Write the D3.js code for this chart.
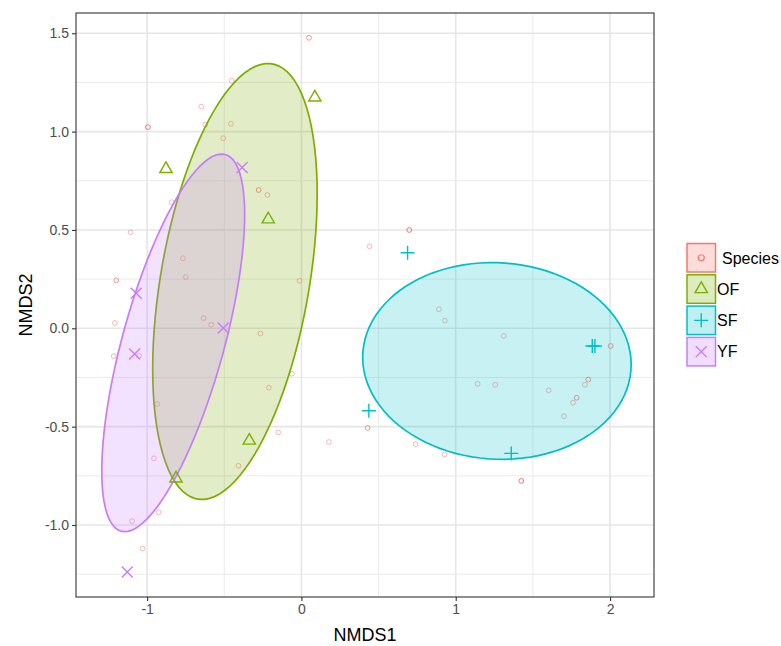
<!DOCTYPE html>
<html>
<head>
<meta charset="utf-8">
<script src="https://cdn.jsdelivr.net/npm/d3@7"></script>
<style>
  body { margin: 0; background: #fff; }
  svg { display: block; font-family: "Liberation Sans", Arial, sans-serif; }
</style>
</head>
<body>
<svg id="chart" width="781" height="646"></svg>
<script>
// ---- data ----
const speciesX = [-0.452,-0.649,-0.995,-0.623,-0.457,-0.507,-0.277,-0.220,-0.841,0.049,
  -1.107,-0.768,-0.749,-1.200,-1.209,-0.634,-0.585,-0.266,-1.217,-1.053,
  -0.211,0.699,0.441,-0.012,-0.062,-0.935,-0.956,-0.408,-0.925,-1.097,
  -1.029,-0.150,0.178,0.429,0.740,0.891,0.930,1.312,2.004,1.142,
  1.256,1.602,1.859,1.837,1.784,1.760,1.701,0.928,1.425];
const speciesY = [1.259,1.127,1.023,1.035,1.040,0.966,0.703,0.678,0.641,1.477,
  0.488,0.356,0.261,0.244,0.027,0.052,0.018,-0.027,-0.142,-0.139,
  -0.302,0.500,0.417,0.242,-0.231,-0.385,-0.661,-0.699,-0.935,-0.980,
  -1.120,-0.529,-0.578,-0.506,-0.589,0.097,0.039,-0.039,-0.090,-0.282,
  -0.287,-0.315,-0.261,-0.287,-0.353,-0.378,-0.447,-0.641,-0.776];
const speciesLevel = [1,1,3,1,1,1,2,1,1,2,
  1,1,1,2,1,1,1,1,1,1,
  1,3,1,1,1,1,1,1,1,1,
  1,1,1,2,1,1,1,1,2,1,
  1,1,2,1,2,1,1,1,3];

const siteGroup = ["OF","OF","OF","OF","OF","SF","SF","SF","SF","SF","YF","YF","YF","YF","YF"];
const siteX = [-0.878,0.087,-0.215,-0.338,-0.813, 0.688,1.885,1.902,0.437,1.360, -0.384,-1.071,-1.081,-0.507,-1.129];
const siteY = [0.810,1.174,0.554,-0.571,-0.763, 0.384,-0.090,-0.090,-0.419,-0.636, 0.818,0.178,-0.131,0.002,-1.239];

const ellipseGroup = ["OF","SF","YF"];
const ellipseCx = [-0.431, 1.267, -0.831];
const ellipseCy = [0.238, -0.166, -0.074];
const ellipseSx = [0.533, 0.870, 0.463];
const ellipseSy = [1.108, 0.500, 0.960];
const ellipseR  = [0.401, -0.037, 0.678];

const legendLabels = ["Species","OF","SF","YF"];
const xTicks = [-1,0,1,2];
const yTicks = [-1.0,-0.5,0.0,0.5,1.0,1.5];
const xMinor = [-0.5,0.5,1.5];
const yMinor = [-1.25,-0.75,-0.25,0.25,0.75,1.25];

// ---- layout ----
const svg = d3.select("#chart");
const L = 76, R = 654, T = 13, B = 597;
const x = d3.scaleLinear().domain([-1.461, 2.285]).range([L, R]);
const y = d3.scaleLinear().domain([-1.366, 1.603]).range([B, T]);
const color = d3.scaleOrdinal().domain(["Species","OF","SF","YF"])
  .range(["#F8766D","#7CAE00","#00BFC4","#C77CFF"]);
const opacity = d3.scaleOrdinal().domain([1,2,3]).range([0.5,0.78,1]);
const shape = d3.scaleOrdinal().domain(["OF","SF","YF"])
  .range([d3.symbolTriangle2, d3.symbolPlus, d3.symbolX]);
const shapeSize = d3.scaleOrdinal().domain(["OF","SF","YF"]).range([108, 66, 80]);

// panel background + grid
svg.append("rect").attr("x", L).attr("y", T).attr("width", R-L).attr("height", B-T).attr("fill", "#fff");
const grid = svg.append("g");
grid.selectAll(".xm").data(xMinor).join("line")
  .attr("x1", d => x(d)).attr("x2", d => x(d)).attr("y1", T).attr("y2", B)
  .attr("stroke", "#EBEBEB").attr("stroke-width", 1);
grid.selectAll(".ym").data(yMinor).join("line")
  .attr("y1", d => y(d)).attr("y2", d => y(d)).attr("x1", L).attr("x2", R)
  .attr("stroke", "#EBEBEB").attr("stroke-width", 1);
grid.selectAll(".xM").data(xTicks).join("line")
  .attr("x1", d => x(d)).attr("x2", d => x(d)).attr("y1", T).attr("y2", B)
  .attr("stroke", "#E6E6E6").attr("stroke-width", 1.6);
grid.selectAll(".yM").data(yTicks).join("line")
  .attr("y1", d => y(d)).attr("y2", d => y(d)).attr("x1", L).attr("x2", R)
  .attr("stroke", "#E6E6E6").attr("stroke-width", 1.6);

// species points
svg.append("g").selectAll("circle").data(speciesX.map((v,i) => ({x:v, y:speciesY[i], l:speciesLevel[i]})))
  .join("circle")
  .attr("cx", d => x(d.x)).attr("cy", d => y(d.y)).attr("r", 2.4)
  .attr("fill", "none").attr("stroke", color("Species")).attr("stroke-width", 1)
  .attr("stroke-opacity", d => opacity(d.l));

// ellipses
const line = d3.line().x(d => x(d[0])).y(d => y(d[1])).curve(d3.curveLinearClosed);
const ell = ellipseGroup.map((g,i) => {
  const pts = d3.range(0, 100).map(k => {
    const t = 2*Math.PI*k/100;
    const r = ellipseR[i];
    return [ellipseCx[i] + ellipseSx[i]*Math.cos(t),
            ellipseCy[i] + ellipseSy[i]*(r*Math.cos(t) + Math.sqrt(1-r*r)*Math.sin(t))];
  });
  return {g, pts};
});
svg.append("g").selectAll("path").data(ell).join("path")
  .attr("d", d => line(d.pts))
  .attr("fill", d => color(d.g)).attr("fill-opacity", 0.22)
  .attr("stroke", d => color(d.g)).attr("stroke-width", 1.7);

// site points
svg.append("g").selectAll("path").data(siteGroup.map((g,i) => ({g, x:siteX[i], y:siteY[i]})))
  .join("path")
  .attr("transform", d => `translate(${x(d.x)},${y(d.y)})`)
  .attr("d", d => d3.symbol(shape(d.g), shapeSize(d.g))())
  .attr("fill", "none").attr("stroke", d => color(d.g)).attr("stroke-width", 1.4);

// panel border
svg.append("rect").attr("x", L).attr("y", T).attr("width", R-L).attr("height", B-T)
  .attr("fill", "none").attr("stroke", "#333").attr("stroke-width", 1.1);

// axes
const xAxis = d3.axisBottom(x).tickValues(xTicks).tickSize(4).tickPadding(3).tickFormat(d3.format("d"));
const gx = svg.append("g").attr("transform", `translate(0,${B})`).call(xAxis);
const yAxis = d3.axisLeft(y).tickValues(yTicks).tickSize(4).tickPadding(3).tickFormat(d3.format(".1f"));
const gy = svg.append("g").attr("transform", `translate(${L},0)`).call(yAxis);
[gx, gy].forEach(g => {
  g.select(".domain").remove();
  g.selectAll(".tick line").attr("stroke", "#333").attr("stroke-width", 1.1);
  g.selectAll(".tick text").attr("fill", "#4D4D4D").attr("font-size", 14)
    .attr("font-family", "Liberation Sans, Arial, sans-serif");
});
gx.selectAll(".tick text").text(d => d < 0 ? "-" + Math.abs(d) : d);
gy.selectAll(".tick text").text(d => d < 0 ? "-" + d3.format(".1f")(Math.abs(d)) : d3.format(".1f")(d));

svg.append("text").attr("x", (L+R)/2).attr("y", 641).attr("text-anchor", "middle")
  .attr("font-size", 18).attr("fill", "#000").text("NMDS1");
svg.append("text").attr("transform", `translate(32,${(T+B)/2}) rotate(-90)`).attr("text-anchor", "middle")
  .attr("font-size", 18).attr("fill", "#000").text("NMDS2");

// legend
const lg = svg.append("g");
const keyX = 687, keyY0 = 243.5, keyStep = 31.3, keyS = 28.5;
legendLabels.forEach((lab, i) => {
  const ky = keyY0 + i*keyStep;
  lg.append("rect").attr("x", keyX).attr("y", ky).attr("width", keyS).attr("height", keyS)
    .attr("fill", color(lab)).attr("fill-opacity", 0.25)
    .attr("stroke", color(lab)).attr("stroke-width", 1.5);
  const cx = keyX + keyS/2, cy = ky + keyS/2;
  if (lab === "Species") {
    lg.append("circle").attr("cx", cx).attr("cy", cy).attr("r", 3)
      .attr("fill", "none").attr("stroke", color(lab)).attr("stroke-width", 1.2);
  } else {
    lg.append("path").attr("transform", `translate(${cx},${cy})`)
      .attr("d", d3.symbol(shape(lab), shapeSize(lab))())
      .attr("fill", "none").attr("stroke", color(lab)).attr("stroke-width", 1.4);
  }
  lg.append("text").attr("x", lab === "Species" ? 722 : 717).attr("y", cy + 5.8)
    .attr("font-size", 16).attr("fill", "#000").text(lab);
});
</script>
</body>
</html>
